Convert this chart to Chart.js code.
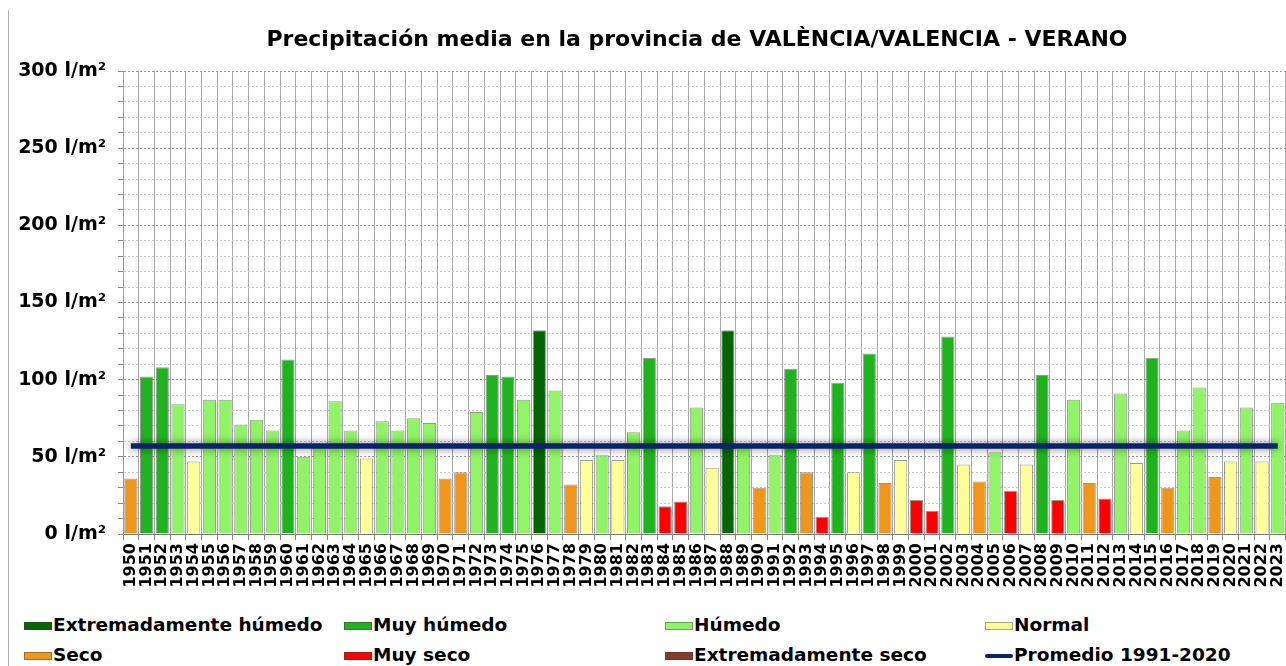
<!DOCTYPE html>
<html>
<head>
<meta charset="utf-8">
<script src="https://cdn.jsdelivr.net/npm/chart.js@4.4.0/dist/chart.umd.min.js"></script>
<style>
  html, body { margin: 0; padding: 0; background: #fff; overflow: hidden; }
  body { width: 1286px; height: 666px; position: relative; font-family: "DejaVu Sans", Verdana, sans-serif; }
  #frame { position: absolute; left: 8px; top: 10px; width: 0; height: 660px; border-left: 1px solid #b0b0b0; }
  #title { position: absolute; left: 0; width: 1394px; top: 26px; text-align: center; font-weight: bold; font-size: 22px; color: #000; }
  #wrap { position: absolute; left: 0; top: 0; width: 1300px; height: 610px; }
  .leg { position: absolute; height: 20px; }
  .leg .sw { position: absolute; left: 0; top: 7px; width: 28px; height: 8px; box-sizing: border-box; border: 1px solid rgba(60,60,60,0.45); }
  .leg .ln { position: absolute; left: 0; top: 9px; width: 28px; height: 4px; border-radius: 2px; background: #0b2468; }
  .leg .tx { position: absolute; left: 29px; top: 0; font-weight: bold; font-size: 18.5px; line-height: 20px; color: #000; white-space: nowrap; }
</style>
</head>
<body>
<div id="frame"></div>
<div id="wrap"><canvas id="chart"></canvas></div>
<div id="title">Precipitación media en la provincia de VALÈNCIA/VALENCIA - VERANO</div>
<div id="legend"></div>
<script>
const years = [];
for (let y = 1950; y <= 2023; y++) years.push(String(y));

// summer precipitation (l/m2)
const rain = [
  36, 102, 108, 84, 47, 87, 87, 71, 74, 67,
  113, 50, 57, 86, 67, 49, 73, 67, 75, 72,
  36, 40, 79, 103, 102, 87, 132, 93, 32, 48,
  51, 48, 66, 114, 18, 21, 82, 43, 132, 57,
  30, 51, 107, 40, 11, 98, 40, 117, 33, 48,
  22, 15, 128, 45, 34, 53, 28, 45, 103, 22,
  87, 33, 23, 91, 46, 114, 30, 67, 95, 37,
  47, 82, 47, 85
];

// class of each year
const klass = [
  'S', 'MH', 'MH', 'H', 'N', 'H', 'H', 'H', 'H', 'H',
  'MH', 'H', 'H', 'H', 'H', 'N', 'H', 'H', 'H', 'H',
  'S', 'S', 'H', 'MH', 'MH', 'H', 'EH', 'H', 'S', 'N',
  'H', 'N', 'H', 'MH', 'MS', 'MS', 'H', 'N', 'EH', 'H',
  'S', 'H', 'MH', 'S', 'MS', 'MH', 'N', 'MH', 'S', 'N',
  'MS', 'MS', 'MH', 'N', 'S', 'H', 'MS', 'N', 'MH', 'MS',
  'H', 'S', 'MS', 'H', 'N', 'MH', 'S', 'H', 'H', 'S',
  'N', 'H', 'N', 'H'
];

const mean = 57; // Promedio 1991-2020

const classKeys = ['EH', 'MH', 'H', 'N', 'S', 'MS', 'ES'];
const classNames = ['Extremadamente húmedo', 'Muy húmedo', 'Húmedo', 'Normal', 'Seco', 'Muy seco', 'Extremadamente seco'];
const classColors = ['#056505', '#1fb41f', '#90f466', '#ffff99', '#f0961c', '#ff0000', '#8c3a30'];

const colorOf = k => classColors[classKeys.indexOf(k)];

// soft shadow under the mean line
const shadowPlugin = {
  id: 'lineShadow',
  beforeDatasetDraw(chart, args) {
    if (args.meta.type !== 'line') return;
    const c = chart.ctx;
    c.save();
    c.shadowColor = 'rgba(0,0,0,0.55)';
    c.shadowBlur = 9;
  },
  afterDatasetDraw(chart, args) {
    if (args.meta.type !== 'line') return;
    chart.ctx.restore();
  }
};

const ctx = document.getElementById('chart').getContext('2d');
new Chart(ctx, {
  data: {
    labels: years,
    datasets: [
      {
        type: 'line',
        label: 'Promedio 1991-2020',
        data: years.map(() => mean),
        borderColor: '#0b2468',
        borderWidth: 5.5,
        pointRadius: 0,
        order: 0
      },
      {
        type: 'bar',
        label: 'Precipitación',
        data: rain,
        backgroundColor: klass.map(colorOf),
        borderColor: 'rgba(70,70,70,0.55)',
        borderWidth: 1,
        barPercentage: 0.84,
        categoryPercentage: 1,
        order: 1
      }
    ]
  },
  plugins: [shadowPlugin],
  options: {
    responsive: true,
    maintainAspectRatio: false,
    animation: false,
    layout: { padding: { top: 71, right: 8, left: 0, bottom: 0 } },
    plugins: {
      legend: { display: false },
      title: { display: false },
      tooltip: { enabled: false }
    },
    scales: {
      x: {
        offset: true,
        afterFit: s => { s.height = 76; },
        grid: {
          offset: true,
          color: '#a8a8a8',
          tickLength: 6,
          tickColor: '#888'
        },
        border: { color: '#777' },
        ticks: {
          autoSkip: false,
          maxRotation: 90,
          minRotation: 90,
          padding: 3,
          color: '#000',
          font: { family: 'DejaVu Sans', weight: 'bold', size: 16 }
        }
      },
      y: {
        min: 0,
        max: 300,
        afterFit: s => { s.width = 123; },
        grid: {
          color: c => (c.tick.value % 50 === 0 ? '#9a9a9a' : '#cacaca'),
          tickLength: 5,
          tickColor: '#888'
        },
        border: { color: '#999', dash: [2, 2] },
        ticks: {
          stepSize: 10,
          autoSkip: false,
          padding: 12,
          color: '#000',
          font: { family: 'DejaVu Sans', weight: 'bold', size: 19 },
          callback: v => (v % 50 === 0 ? v + ' l/m²' : '')
        }
      }
    }
  }
});

// legend in four columns, two rows
const legendEl = document.getElementById('legend');
const colX = [24, 344, 665, 985];
const rowY = [615, 645];
const order = ['EH', 'MH', 'H', 'N', 'S', 'MS', 'ES', 'AVG'];
order.forEach((k, i) => {
  const d = document.createElement('div');
  d.className = 'leg';
  d.style.left = colX[i % 4] + 'px';
  d.style.top = rowY[Math.floor(i / 4)] + 'px';
  if (k === 'AVG') {
    d.innerHTML = '<span class="ln"></span><span class="tx">Promedio 1991-2020</span>';
  } else {
    const j = classKeys.indexOf(k);
    d.innerHTML = '<span class="sw" style="background:' + classColors[j] + '"></span><span class="tx">' + classNames[j] + '</span>';
  }
  legendEl.appendChild(d);
});
</script>
</body>
</html>
